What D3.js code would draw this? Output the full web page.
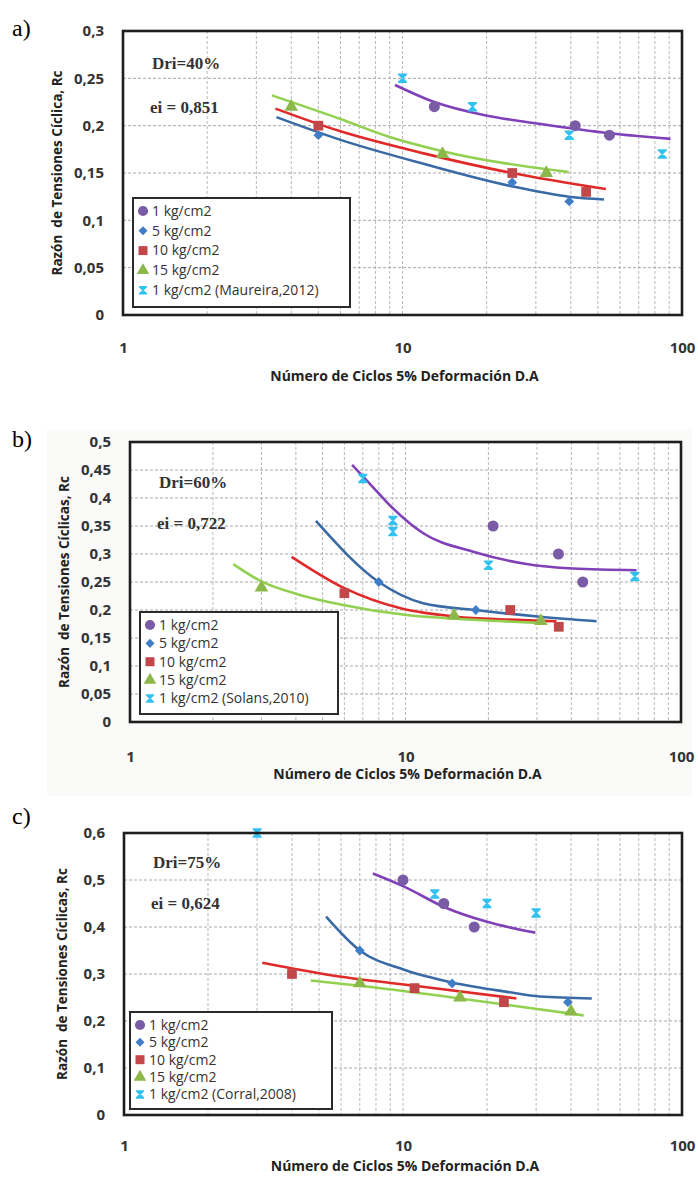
<!DOCTYPE html>
<html>
<head>
<meta charset="utf-8">
<script src="https://cdn.jsdelivr.net/npm/d3@7"></script>
<style>
  body { margin: 0; background: #fff; }
  text { font-family: "Open Sans", sans-serif; }
</style>
</head>
<body>
<div id="chart"></div>
<script>
const width = 698;
const height = 1177;

// labels
const seriesNames = ["1 kg/cm2", "5 kg/cm2", "10 kg/cm2", "15 kg/cm2"];
const refNames = ["1 kg/cm2 (Maureira,2012)", "1 kg/cm2 (Solans,2010)", "1 kg/cm2 (Corral,2008)"];
const panelLetters = ["a)", "b)", "c)"];
const driLabels = ["Dri=40%", "Dri=60%", "Dri=75%"];
const eiLabels = ["ei = 0,851", "ei = 0,722", "ei = 0,624"];
const yTitles = ["Razón  de Tensiones Cíclica, Rc", "Razón  de Tensiones Cíclicas, Rc", "Razón  de Tensiones Cíclicas, Rc"];
const xTitle = "Número de Ciclos 5% Deformación D.A";

// ticks
const xTicks = [1, 10, 100];
const yTicksA = [0, 0.05, 0.1, 0.15, 0.2, 0.25, 0.3];
const yTicksB = [0, 0.05, 0.1, 0.15, 0.2, 0.25, 0.3, 0.35, 0.4, 0.45, 0.5];
const yTicksC = [0, 0.1, 0.2, 0.3, 0.4, 0.5, 0.6];

// panel a : [N cycles, Rc]
const a1 = [[13, 0.22], [41.5, 0.2], [55, 0.19]];
const a5 = [[5, 0.19], [24.7, 0.14], [39.5, 0.12]];
const a10 = [[5, 0.2], [24.7, 0.15], [45.4, 0.13]];
const a15 = [[4, 0.22], [13.9, 0.17], [32.7, 0.15]];
const aRef = [[10, 0.25], [17.8, 0.22], [39.5, 0.19], [85, 0.17]];
const a1Fit = [[9.4, 0.243], [13, 0.225], [19.7, 0.211], [30.9, 0.202], [55, 0.192], [91, 0.186]];
const a5Fit = [[3.54, 0.209], [6, 0.185], [11.8, 0.16], [24.6, 0.136], [39.5, 0.125], [52.6, 0.122]];
const a10Fit = [[3.51, 0.218], [6, 0.194], [11.8, 0.171], [24.6, 0.15], [53.4, 0.133]];
const a15Fit = [[3.41, 0.232], [6, 0.207], [9, 0.188], [13.9, 0.173], [39.3, 0.151]];

// panel b
const b1 = [[20.8, 0.35], [35.9, 0.3], [44, 0.25]];
const b5 = [[8, 0.25], [18, 0.2]];
const b10 = [[6, 0.23], [24, 0.2], [36, 0.17]];
const b15 = [[3, 0.24], [15, 0.19], [31, 0.18]];
const bRef = [[7, 0.435], [9, 0.36], [9, 0.34], [20, 0.28], [68, 0.26]];
const b1Fit = [[6.4, 0.459], [7.6, 0.42], [8.9, 0.384], [11.6, 0.337], [17.6, 0.304], [26.8, 0.283], [40.6, 0.274], [69, 0.271]];
const b5Fit = [[4.73, 0.359], [8, 0.25], [11.6, 0.212], [17.9, 0.2], [30.8, 0.188], [49.4, 0.18]];
const b10Fit = [[3.86, 0.295], [6, 0.239], [9.6, 0.203], [15.3, 0.188], [23.3, 0.183], [35.3, 0.18]];
const b15Fit = [[2.37, 0.282], [3, 0.251], [4.14, 0.227], [5.8, 0.21], [10.1, 0.191], [17, 0.183], [30.8, 0.177]];

// panel c
const c1 = [[10, 0.5], [14, 0.45], [18, 0.4]];
const c5 = [[7, 0.35], [15, 0.28], [39, 0.24]];
const c10 = [[4, 0.3], [11, 0.27], [23, 0.24]];
const c15 = [[7, 0.28], [16, 0.25], [40, 0.22]];
const cRef = [[3, 0.6], [13, 0.47], [20, 0.45], [30, 0.43]];
const c1Fit = [[7.8, 0.514], [10.1, 0.486], [14.1, 0.442], [20, 0.411], [29.8, 0.388]];
const c5Fit = [[5.3, 0.422], [7, 0.35], [10.1, 0.309], [15, 0.282], [23.6, 0.262], [31, 0.252], [47.5, 0.248]];
const c10Fit = [[3.13, 0.324], [6, 0.294], [11, 0.275], [25.5, 0.248]];
const c15Fit = [[4.67, 0.286], [7, 0.275], [16, 0.248], [44.4, 0.212]];

const markerColors = ["#7a5ca6", "#3f7ec6", "#c2474a", "#8cb84a"];
const lineColors = ["#8040b8", "#3a6aa6", "#e02a2a", "#92d050"];
const refColor = "#33c1f0";

const panels = [
  {left: 123, right: 682, top: 31, bottom: 315, yMax: 0.3, yTicks: yTicksA,
   pts: [a1, a5, a10, a15], ref: aRef, fits: [a1Fit, a5Fit, a10Fit, a15Fit],
   letterY: 36, driY: 63, eiY: 107, titleX: 57, xLabY: 348, xTitleY: 381,
   legend: {x: 133, y: 198, w: 217, h: 109}},
  {left: 130, right: 681, top: 442, bottom: 722, yMax: 0.5, yTicks: yTicksB,
   pts: [b1, b5, b10, b15], ref: bRef, fits: [b1Fit, b5Fit, b10Fit, b15Fit],
   letterY: 447, driY: 482, eiY: 523, titleX: 64, xLabY: 757, xTitleY: 779,
   legend: {x: 140, y: 612, w: 198, h: 102}},
  {left: 124, right: 682, top: 833, bottom: 1115, yMax: 0.6, yTicks: yTicksC,
   pts: [c1, c5, c10, c15], ref: cRef, fits: [c1Fit, c5Fit, c10Fit, c15Fit],
   letterY: 824, driY: 862, eiY: 903, titleX: 62, xLabY: 1146, xTitleY: 1171,
   legend: {x: 130, y: 1012, w: 202, h: 97}}
];

const svg = d3.select('#chart').append('svg')
  .attr('width', width)
  .attr('height', height);

// faint scan background behind panel b
svg.append('rect')
  .attr('x', 47).attr('y', 430).attr('width', 645).attr('height', 366)
  .attr('fill', '#fafaf9');

const fmt = d => String(d).replace('.', ',');

// diamond = square turned 45deg
const symbols = [d3.symbolCircle, d3.symbolSquare, d3.symbolSquare, d3.symbolTriangle];
const symbolSizes = [95, 48, 95, 80];
const symbolRot = [0, 45, 0, 0];

function refMarker(g, x, y, s) {
  g.append('path')
    .attr('d', `M${x - s},${y - s}L${x + s},${y - s}L${x - s},${y + s}L${x + s},${y + s}Z`)
    .attr('fill', refColor)
    .attr('stroke', refColor)
    .attr('stroke-width', 1.5)
    .attr('stroke-linejoin', 'round');
}

panels.forEach((p, idx) => {
  const g = svg.append('g');

  const x = d3.scaleLog().domain([1, 100]).range([p.left, p.right]);
  const y = d3.scaleLinear().domain([0, p.yMax]).range([p.bottom, p.top]);

  // plot area
  g.append('rect')
    .attr('x', p.left).attr('y', p.top)
    .attr('width', p.right - p.left).attr('height', p.bottom - p.top)
    .attr('fill', '#fff');

  // grid
  const minor = [];
  [1, 10].forEach(dec => d3.range(2, 10).forEach(k => minor.push(dec * k)));
  minor.push(10);
  g.selectAll('.vgrid').data(minor).join('line')
    .attr('x1', d => x(d)).attr('x2', d => x(d))
    .attr('y1', p.top).attr('y2', p.bottom)
    .attr('stroke', '#b8b8b8').attr('stroke-width', 1)
    .attr('stroke-dasharray', '3,2');
  g.selectAll('.hgrid').data(p.yTicks.filter(d => d > 0 && d < p.yMax)).join('line')
    .attr('x1', p.left).attr('x2', p.right)
    .attr('y1', d => y(d)).attr('y2', d => y(d))
    .attr('stroke', '#a8a8a8').attr('stroke-width', 1)
    .attr('stroke-dasharray', '3,2');

  // axes (labels only)
  const yAxis = g.append('g')
    .attr('transform', `translate(${p.left},0)`)
    .call(d3.axisLeft(y).tickValues(p.yTicks).tickFormat(fmt).tickSize(0).tickPadding(19));
  yAxis.select('.domain').remove();
  yAxis.selectAll('text')
    .style('font-family', '"Open Sans", sans-serif')
    .style('font-size', '15px').style('font-weight', 'bold').attr('fill', '#333');

  const xAxis = g.append('g')
    .attr('transform', `translate(0,${p.xLabY})`)
    .call(d3.axisBottom(x).tickValues(xTicks).tickFormat(d3.format('d')).tickSize(0).tickPadding(0));
  xAxis.select('.domain').remove();
  xAxis.selectAll('text')
    .attr('dy', '0.35em').attr('y', 0)
    .style('font-family', '"Open Sans", sans-serif')
    .style('font-size', '15px').style('font-weight', 'bold').attr('fill', '#333');

  // titles
  g.append('text')
    .attr('x', (p.left + p.right) / 2 + 2).attr('y', p.xTitleY)
    .attr('text-anchor', 'middle')
    .style('font-size', '14px').style('font-weight', 'bold').attr('fill', '#222')
    .text(xTitle);
  g.append('text')
    .attr('transform', `translate(${p.titleX},${(p.top + p.bottom) / 2}) rotate(-90)`)
    .attr('text-anchor', 'middle').attr('dy', '0.35em')
    .style('font-size', '13.5px').style('font-weight', 'bold').attr('fill', '#222')
    .style('white-space', 'pre')
    .text(yTitles[idx]);

  g.append('text')
    .attr('x', 12).attr('y', p.letterY)
    .style('font-family', '"Liberation Serif", serif').style('font-size', '24px')
    .attr('fill', '#000')
    .text(panelLetters[idx]);

  g.append('text')
    .attr('x', p.left + 29).attr('y', p.driY).attr('dy', '0.35em')
    .style('font-family', '"Liberation Serif", serif').style('font-size', '17px')
    .style('font-weight', 'bold').attr('fill', '#333')
    .text(driLabels[idx]);
  g.append('text')
    .attr('x', p.left + 27).attr('y', p.eiY).attr('dy', '0.35em')
    .style('font-family', '"Liberation Serif", serif').style('font-size', '17px')
    .style('font-weight', 'bold').attr('fill', '#333')
    .text(eiLabels[idx]);

  // trend curves
  const line = d3.line()
    .x(d => x(d[0])).y(d => y(d[1]))
    .curve(d3.curveMonotoneX);
  p.fits.forEach((f, i) => {
    g.append('path')
      .attr('d', line(f))
      .attr('fill', 'none')
      .attr('stroke', lineColors[i])
      .attr('stroke-width', 2.6);
  });

  // markers
  p.pts.forEach((pts, i) => {
    g.selectAll(null).data(pts).join('path')
      .attr('transform', d => `translate(${x(d[0])},${y(d[1])}) rotate(${symbolRot[i]})`)
      .attr('d', d3.symbol().type(symbols[i]).size(symbolSizes[i]))
      .attr('fill', markerColors[i]);
  });
  p.ref.forEach(d => refMarker(g, x(d[0]), y(d[1]), 4));

  // frame
  g.append('rect')
    .attr('x', p.left).attr('y', p.top)
    .attr('width', p.right - p.left).attr('height', p.bottom - p.top)
    .attr('fill', 'none').attr('stroke', '#1e1e1e').attr('stroke-width', 2.6);

  // legend
  const L = p.legend;
  const lg = g.append('g');
  lg.append('rect')
    .attr('x', L.x).attr('y', L.y).attr('width', L.w).attr('height', L.h)
    .attr('fill', '#fff').attr('stroke', '#2a2a2a').attr('stroke-width', 2);
  const names = seriesNames.concat([refNames[idx]]);
  const step = (L.h - 12) / 4.9;
  names.forEach((n, i) => {
    const cy = L.y + 13 + i * step;
    if (i < 4) {
      lg.append('path')
        .attr('transform', `translate(${L.x + 10},${cy}) rotate(${symbolRot[i]})`)
        .attr('d', d3.symbol().type(symbols[i]).size(symbolSizes[i] * 0.85))
        .attr('fill', markerColors[i]);
    } else {
      refMarker(lg, L.x + 10, cy, 3.5);
    }
    lg.append('text')
      .attr('x', L.x + 19).attr('y', cy).attr('dy', '0.35em')
      .style('font-size', '14px').attr('fill', '#333')
      .text(n);
  });
});
</script>
</body>
</html>
